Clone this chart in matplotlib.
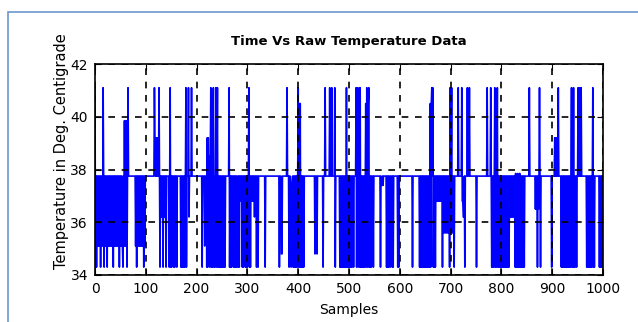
import numpy as np
import matplotlib
matplotlib.use("Agg")
import matplotlib.pyplot as plt
import matplotlib.patches

# temperature level for each code letter (deg C)
levels = {
    "H": 41.1, "k": 40.5, "h": 39.85, "g": 39.2, "f": 38.5,
    "u": 37.85, "b": 37.75, "e": 37.4, "d": 36.8, "s": 36.5,
    "c": 36.2, "n": 35.6, "a": 35.1, "m": 34.8, "L": 34.3,
}

# raw readings, one letter per sample
samples = [
    "HLbLbabababLbaba", "H",
    "bLbababLba" "bababababL" "bababababa" "bLbababaLb" "a",
    "hahahLb", "H", "b" * 13,
    "babLbababababababLba", "b" * 17,
    "bHgbgbgbgbH", "bLbcbcbLbcbcbLb", "bbbb", "LbH",
    "LbLbcbLbLbcbL", "b" * 7, "LbLbLbLbLb",
    "HLbbbHcbbbbH", "b" * 20, "Lbbbbabbb",
    "LgLgafLfHLfLfHLbLbHLbHL", "bLbLbLbLbLbLbL", "b" * 7,
    "HLbLbLbdbLbLbLbL", "bb", "LbLbdbdbLbLbdbLbLbLb",
    "bHLb", "LbdbdbdbcbdbLbbL", "b" * 13, "L", "b" * 27,
    "Lbbbmmbbbbbbbbb", "HbbbLbbeLeeb", "LbLbLbLbLb",
    "HLkLkLbLbLbLb", "b" * 20, "mbbbm" + "b" * 11,
    "LbbbH" "bbbbbbbb" "Hbbb" "Hbbbbb" "HLbbbbbbbb",
    "LbLbLbLbLbLbLHLbLbLbLbLb", "LbbLbbbb", "HLHbLbHL",
    "HLbLbLbLbLbkLHkLkHLbLbLb", "bbL" + "b" * 13,
    "Lbeebebbbbbb", "LbLbLbbLbbbLbLbbbbbbbbLbL",
    "b" * 26, "L", "b" * 13,
    "LbLbLbLbLbLbLbLbLbLbL", "kLkHbHL",
    "bLbLbdbdbdbdbdbdbLbnbnbnbnbnbnbLHnbHnbnbLb", "b" * 6,
    "Hbbbbbb" "Hddccb" "Lbbbb" "Hbbb" "H" + "b" * 13,
    "L", "b" * 20, "HbbbbbbHb",
    "LbLbLbHLbLbHLbLbLbLbLbLbLbLbLbLbLbL", "b",
    "cbcbcbcbcbLuLbLuLbLuLbLbLbLbLb", "b" * 8,
    "H" + "b" * 11, "sbsbLbsbHbL", "b" * 21,
    "L" "bbbbb" "gbgbgbb" "H" "bbbbb",
    "LbLbLbLbLbLbLbLbLbLb" "H" "LbL" "H" "LbL",
    "bbLbbHbHbHbH" + "b" * 10, "LbLbLbLbLbLbHLbLb", "b" * 8,
    "LbLbLbL",
]
temps = [levels[ch] for ch in "".join(samples)]

x_ticks = [0, 100, 200, 300, 400, 500, 600, 700, 800, 900, 1000]
y_ticks = [34, 36, 38, 40, 42]

fig = plt.figure(figsize=(6.38, 3.22), dpi=100)
fig.patches.append(matplotlib.patches.Rectangle(
    (8 / 638, -0.1), 1.1, 1 - 12 / 322 + 0.1, transform=fig.transFigure,
    fill=False, edgecolor="#6d98cf", linewidth=1.2))

ax = fig.add_axes([95 / 638, 47 / 322, 508 / 638, 211 / 322])
ax.plot(np.arange(len(temps)), temps, color="#0000ff", linewidth=1.2)

ax.set_xlim(0, 1000)
ax.set_ylim(34, 42)
ax.set_xticks(x_ticks)
ax.set_yticks(y_ticks)
ax.tick_params(direction="in", top=True, right=True, length=4,
               labelsize=10, pad=5)
ax.set_axisbelow(False)
ax.grid(True, color="black", linestyle=(0, (4, 4)), linewidth=1.2)
for s in ax.spines.values():
    s.set_linewidth(1.2)

ax.set_title("Time Vs Raw Temperature Data", fontsize=9.5,
             fontweight="bold", pad=14)
ax.set_xlabel("Samples", fontsize=10, labelpad=5)
ax.set_ylabel("Temperature in Deg. Centigrade", fontsize=10.5)
ax.yaxis.set_label_coords(-0.052, 0.585)

fig.savefig("out.png", dpi=100)
